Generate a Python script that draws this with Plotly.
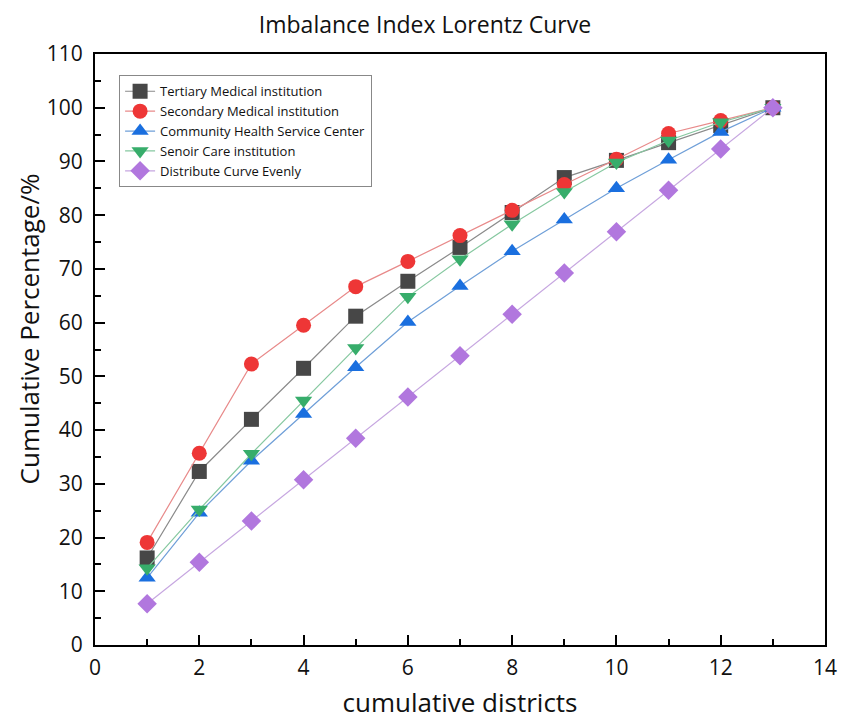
import plotly.graph_objects as go

districts = list(range(1, 14))
tertiary = [16.2, 32.3, 42.0, 51.5, 61.2, 67.7, 74.0, 80.5, 87.0, 90.2, 93.5, 96.7, 100.0]
secondary = [19.1, 35.7, 52.3, 59.5, 66.7, 71.4, 76.2, 80.9, 85.7, 90.4, 95.2, 97.6, 100.0]
community = [12.5, 24.6, 34.3, 43.0, 51.7, 60.1, 66.8, 73.3, 79.2, 85.0, 90.3, 95.5, 100.0]
senior = [14.3, 25.2, 35.6, 45.5, 55.3, 64.8, 71.8, 78.3, 84.3, 89.8, 93.9, 97.3, 100.0]
even = [7.69, 15.38, 23.08, 30.77, 38.46, 46.15, 53.85, 61.54, 69.23, 76.92, 84.62, 92.31, 100.0]

series = [
    ("Tertiary Medical institution", tertiary, "square", "#474747", "#8a8a8a"),
    ("Secondary Medical institution", secondary, "circle", "#ee3636", "#e88a8a"),
    ("Community Health Service Center", community, "triangle-up", "#1a6fdf", "#6f9fd8"),
    ("Senoir Care institution", senior, "triangle-down", "#37ad6b", "#86c8a0"),
    ("Distribute Curve Evenly", even, "diamond", "#b177de", "#c6a6e0"),
]

fig = go.Figure()
for name, vals, sym, mc, lc in series:
    fig.add_trace(go.Scatter(
        x=districts, y=vals, name=name, mode="lines+markers",
        line=dict(color=lc, width=1.2),
        marker=dict(symbol=sym, size=15, color=mc, line=dict(width=0)),
    ))

font_family = "Open Sans, Noto Sans, sans-serif"
fig.update_layout(
    width=851, height=722,
    paper_bgcolor="white", plot_bgcolor="white",
    margin=dict(l=87, r=34, t=46, b=85, autoexpand=False),
    title=dict(text="Imbalance Index Lorentz Curve", x=0.49, xanchor="center",
               y=0.977, yanchor="middle",
               font=dict(family=font_family, size=23, color="#111")),
    font=dict(family=font_family, color="#111"),
    legend=dict(x=0.033, y=0.964, xanchor="left", yanchor="top",
                bgcolor="white", bordercolor="#888", borderwidth=1,
                font=dict(size=13, color="#111"), tracegroupgap=0,
                itemsizing="trace"),
    showlegend=True,
    annotations=[dict(
        text="Cumulative Percentage/%", textangle=-90,
        xref="paper", yref="paper", x=-0.091, y=0.535,
        xanchor="center", yanchor="middle", showarrow=False,
        font=dict(family=font_family, size=26, color="#111"),
    )],
)
fig.update_xaxes(
    range=[0, 14], dtick=2, tick0=0, showgrid=False, zeroline=False,
    showline=True, linecolor="black", linewidth=2, mirror=True,
    ticks="inside", ticklen=10, tickwidth=1.5, tickcolor="black",
    minor=dict(dtick=1, tick0=0, ticks="inside", ticklen=6, tickwidth=1.5, tickcolor="black"),
    tickfont=dict(size=21, color="#111"), ticklabelstandoff=3,
    automargin=False,
    title=dict(text="cumulative districts", font=dict(size=26, color="#111"), standoff=14),
)
fig.update_yaxes(
    range=[0, 110], dtick=10, tick0=0, showgrid=False, zeroline=False,
    showline=True, linecolor="black", linewidth=2, mirror=True,
    ticks="inside", ticklen=10, tickwidth=1.5, tickcolor="black",
    minor=dict(dtick=5, tick0=0, ticks="inside", ticklen=6, tickwidth=1.5, tickcolor="black"),
    tickfont=dict(size=21, color="#111"), ticklabelstandoff=6,
    automargin=False,
)

fig.write_html("out.html")
